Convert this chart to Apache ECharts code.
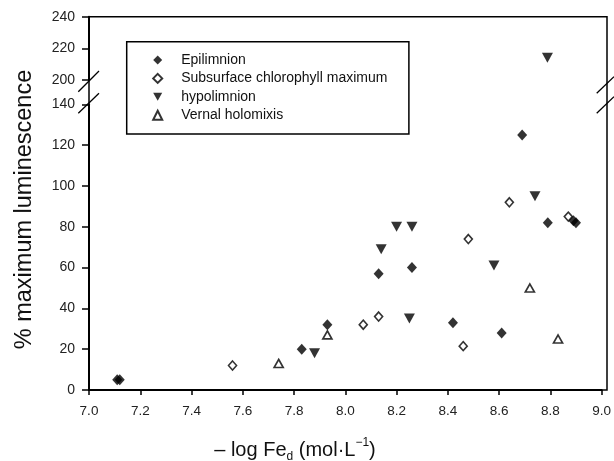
<!DOCTYPE html>
<html><head><meta charset="utf-8">
<script src="https://cdn.jsdelivr.net/npm/echarts@6/dist/echarts.min.js"></script>
<style>html,body{margin:0;padding:0;background:#fff}#c{width:614px;height:461px}</style>
</head><body><div id="c"></div>
<script>
// ---- data (x = -log Fe_d, y = % maximum luminescence) ----
const seriesNames = ['Epilimnion', 'Subsurface chlorophyll maximum', 'hypolimnion', 'Vernal holomixis'];
const epilimnion = [[7.11,5],[7.12,5],[7.83,20],[7.93,32],[8.13,57],[8.26,60],[8.42,33],[8.61,28],[8.69,125],[8.79,82],[8.89,83],[8.90,82]];
const chlorophyllMax = [[7.56,12],[8.07,32],[8.13,36],[8.46,21.5],[8.48,74],[8.64,92],[8.87,85]];
const hypolimnion = [[7.88,18],[8.14,69],[8.20,80],[8.26,80],[8.25,35],[8.58,61],[8.74,95],[8.77,214]];
const vernalHolomixis = [[7.74,13],[7.93,27],[8.72,50],[8.83,25]];
const xRange = [7.0, 9.0];
const xStep = 0.2;
const yLowerRange = [0, 140];
const yUpperRange = [200, 240];
const yStep = 20;

const FONT = '"Liberation Sans", Arial, sans-serif';
const L = 89, W = 518;
const upperTop = 16.7, upperH = 63.3;
const lowerTop = 104.4, lowerH = 285.6;

const downTri = 'path://M0,0L10,0L5,9Z';
const styles = [
  {symbol:'diamond', size:[10,11], item:{color:'#000'}},
  {symbol:'diamond', size:[8,9], item:{color:'#fff', borderColor:'#000', borderWidth:1.6}},
  {symbol:downTri, size:[11,10], item:{color:'#000'}},
  {symbol:'triangle', size:[9,8], item:{color:'#fff', borderColor:'#000', borderWidth:1.7}}
];
const groups = [epilimnion, chlorophyllMax, hypolimnion, vernalHolomixis];

const series = [];
groups.forEach((g, i) => {
  const st = styles[i];
  const lower = g.filter(p => p[1] <= yLowerRange[1]);
  const upper = g.filter(p => p[1] >= yUpperRange[0]);
  const base = {type:'scatter', name:seriesNames[i], symbol:st.symbol, symbolSize:st.size,
    itemStyle:st.item, emphasis:{disabled:true}, animation:false};
  series.push(Object.assign({}, base, {xAxisIndex:1, yAxisIndex:1, data:lower}));
  if (upper.length) series.push(Object.assign({}, base, {xAxisIndex:0, yAxisIndex:0, data:upper}));
});

const yAxisCommon = {
  type:'value', interval:yStep,
  axisLine:{show:true, lineStyle:{color:'#000', width:2}},
  axisTick:{show:true, length:7, lineStyle:{color:'#000', width:1.5}},
  axisLabel:{margin:14, fontSize:14, color:'#222', fontFamily:FONT},
  splitLine:{show:false}
};

const chart = echarts.init(document.getElementById('c'), null, {renderer:'canvas'});
chart.setOption({
  animation:false,
  backgroundColor:'#fff',
  grid:[
    {left:L, width:W, top:upperTop, height:upperH, show:false},
    {left:L, width:W, top:lowerTop, height:lowerH, show:false},
    {left:L, width:W, top:upperTop, height:lowerTop + lowerH - upperTop, show:true,
      borderColor:'#000', borderWidth:1.5, backgroundColor:'transparent'}
  ],
  xAxis:[
    {gridIndex:0, type:'value', min:xRange[0], max:xRange[1], show:false},
    {gridIndex:1, type:'value', min:xRange[0], max:xRange[1], interval:xStep,
      axisLine:{show:true, lineStyle:{color:'#000', width:2}},
      axisTick:{show:true, length:5, lineStyle:{color:'#000', width:1.5}},
      axisLabel:{margin:14, fontSize:13.5, color:'#222', fontFamily:FONT, formatter:v => v.toFixed(1)},
      splitLine:{show:false}},
    {gridIndex:2, type:'value', min:0, max:1, show:false}
  ],
  yAxis:[
    Object.assign({}, yAxisCommon, {gridIndex:0, min:yUpperRange[0], max:yUpperRange[1]}),
    Object.assign({}, yAxisCommon, {gridIndex:1, min:yLowerRange[0], max:yLowerRange[1]}),
    {gridIndex:2, type:'value', min:0, max:1, show:false}
  ],
  legend:{
    orient:'vertical', left:126.7, top:41.7, selectedMode:false,
    itemWidth:9, itemHeight:9, itemGap:4.4, symbolKeepAspect:true,
    padding:[11.3, 21.5, 11.8, 25.5],
    borderColor:'#000', borderWidth:1.5, backgroundColor:'#fff',
    textStyle:{fontSize:14, fontFamily:FONT, color:'#111', padding:[0,0,0,14]},
    data:seriesNames
  },
  graphic:[
    {type:'line', shape:{x1:78.3, y1:91.7, x2:99, y2:71}, style:{stroke:'#000', lineWidth:1.3}, z:100},
    {type:'line', shape:{x1:78.3, y1:113.3, x2:99, y2:93.3}, style:{stroke:'#000', lineWidth:1.3}, z:100},
    {type:'line', shape:{x1:596.7, y1:93.3, x2:614, y2:76.7}, style:{stroke:'#000', lineWidth:1.3}, z:100},
    {type:'line', shape:{x1:596.7, y1:113.3, x2:614, y2:96.7}, style:{stroke:'#000', lineWidth:1.3}, z:100},
    {type:'text', x:25, y:209.5, rotation:Math.PI/2,
      style:{text:'% maximum luminescence', font:'23.5px ' + FONT, fill:'#111', align:'center', verticalAlign:'middle'}},
    {type:'text', x:295, y:450,
      style:{
        text:'{b|– log Fe}{s|d}{b| (mol·L}{p|−1}{b|)}',
        align:'center', verticalAlign:'middle',
        rich:{
          b:{fontSize:20, fontFamily:FONT, fill:'#111', lineHeight:26, verticalAlign:'middle'},
          s:{fontSize:12, fontFamily:FONT, fill:'#111', lineHeight:12, verticalAlign:'bottom'},
          p:{fontSize:12, fontFamily:FONT, fill:'#111', lineHeight:12, verticalAlign:'top'}
        }
      }}
  ],
  series:series
});
</script></body></html>
